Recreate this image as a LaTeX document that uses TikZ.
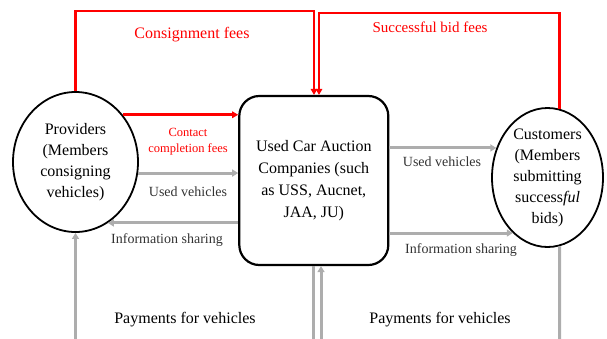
\documentclass[tikz,border=0pt]{standalone}
\usepackage{fontspec}
\setmainfont{Liberation Serif}
\usetikzlibrary{shapes.geometric,arrows.meta}
\begin{document}
\begin{tikzpicture}[x=1pt,y=-1pt,
  redline/.style={draw=red, line width=2.5pt},
  redarrow/.style={redline, -{Triangle[length=6pt,width=6.5pt]}},
  grayline/.style={draw=black!32, line width=3pt},
  grayarrow/.style={grayline, -{Triangle[length=6pt,width=7pt]}},
  party/.style={ellipse, draw=black, line width=1.8pt, align=center, inner sep=0pt,
    font=\fontsize{16}{21}\selectfont},
  hub/.style={rectangle, draw=black, line width=2.2pt, rounded corners=20pt, align=center,
    minimum width=149pt, minimum height=169pt, inner sep=0pt, font=\fontsize{16}{22}\selectfont},
  redlabel/.style={text=red, anchor=base, inner sep=0pt},
  flowlabel/.style={text=black!80, anchor=base, inner sep=0pt, font=\fontsize{14}{16}\selectfont},
  paylabel/.style={text=black, anchor=base, inner sep=0pt, font=\fontsize{16}{18}\selectfont}
]
\useasboundingbox (0,0) rectangle (607,338);

\node[party, minimum width=125pt, minimum height=140pt] (providers) at (75.5,162)
  {Providers\\(Members\\consigning\\vehicles)};
\node[party, minimum width=111pt, minimum height=139pt] (customers) at (547.5,177.5)
  {Customers\\(Members\\submitting\\success\textit{ful}\\bids)};
\node[hub] (box) at (313.8,180.5)
  {Used Car Auction\\Companies (such\\as USS, Aucnet,\\JAA, JU)};

% red fee flows
\coordinate (cf) at (314,11);
\coordinate (sf) at (319,13);
\draw[redarrow] (providers.north) |- (cf) -- (cf |- box.north);
\draw[redarrow] (customers.80) |- (sf) -- (sf |- box.north);
\draw[redarrow] (providers.45) -- (providers.45 -| box.west);

% gray flows
\draw[grayarrow] (providers.-10) -- (providers.-10 -| box.west);
\draw[grayarrow] (box.west |- providers.-62) -- (providers.-62);
\draw[grayarrow] (box.east |- customers.150) -- (customers.150);
\draw[grayarrow] (box.east |- customers.238) -- (customers.238);

% payments
\coordinate (pl) at (75.5,340);
\coordinate (bl) at (313,340);
\coordinate (br) at (321,340);
\coordinate (cr) at (559.5,340);
\draw[grayarrow] (pl) -- (providers.south);
\draw[grayline] (bl) -- (bl |- box.south);
\draw[grayarrow] (br) -- (br |- box.south);
\draw[grayline] (cr) -- (customers.-80);

% labels
\node[redlabel, font=\fontsize{16}{18}\selectfont] (lcons) at (192,38) {Consignment fees};
\node[redlabel, font=\fontsize{15}{17}\selectfont] (lsucc) at (430,32) {Successful bid fees};
\node[text=red, align=center, inner sep=0pt, font=\fontsize{12.5}{16}\selectfont] (lcont) at (188,142) {Contact\\completion fees};
\node[flowlabel] (luv1) at (188,196) {Used vehicles};
\node[flowlabel] (lis1) at (167,243) {Information sharing};
\node[flowlabel] (luv2) at (442,166) {Used vehicles};
\node[flowlabel] (lis2) at (461,253) {Information sharing};
\node[paylabel] (lpay1) at (185,323) {Payments for vehicles};
\node[paylabel] (lpay2) at (440,323) {Payments for vehicles};
\end{tikzpicture}
\end{document}
